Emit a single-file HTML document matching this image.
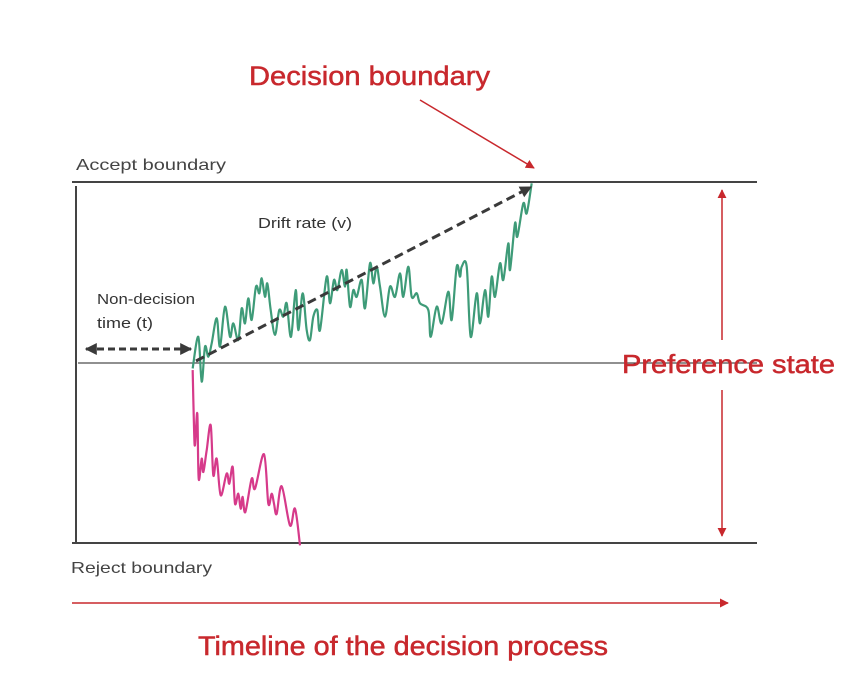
<!DOCTYPE html>
<html><head><meta charset="utf-8"><style>
html,body{margin:0;padding:0;background:#fff;}
svg{display:block;font-family:"Liberation Sans",sans-serif;}
</style></head><body>
<svg width="852" height="676" viewBox="0 0 852 676">
<defs>
<marker id="ar" viewBox="0 0 10 10" refX="9" refY="5" markerWidth="6" markerHeight="6" orient="auto-start-reverse"><path d="M0,0 L10,5 L0,10 z" fill="#c8282d"/></marker>
<marker id="ad" viewBox="0 0 10 10" refX="9" refY="5" markerWidth="4" markerHeight="4" orient="auto-start-reverse"><path d="M0,0 L10,5 L0,10 z" fill="#3a3a3a"/></marker>
</defs>
<text x="249" y="85" font-size="27" fill="#c8282d" stroke="#c8282d" stroke-width="0.5" textLength="241" lengthAdjust="spacingAndGlyphs">Decision boundary</text>
<line x1="420" y1="100" x2="534" y2="168" stroke="#c8282d" stroke-width="1.5" marker-end="url(#ar)"/>
<text x="76" y="170" font-size="16" fill="#444" textLength="150" lengthAdjust="spacingAndGlyphs">Accept boundary</text>
<line x1="72" y1="182" x2="757" y2="182" stroke="#444" stroke-width="2"/>
<line x1="72" y1="543" x2="757" y2="543" stroke="#444" stroke-width="2"/>
<line x1="78" y1="363" x2="757" y2="363" stroke="#222" stroke-width="1"/>
<line x1="76" y1="186" x2="76" y2="543" stroke="#444" stroke-width="2"/>
<text x="71" y="573" font-size="16" fill="#444" textLength="141" lengthAdjust="spacingAndGlyphs">Reject boundary</text>
<line x1="72" y1="603" x2="728" y2="603" stroke="#c8282d" stroke-width="1.5" marker-end="url(#ar)"/>
<text x="198" y="655" font-size="27" fill="#c8282d" stroke="#c8282d" stroke-width="0.5" textLength="410" lengthAdjust="spacingAndGlyphs">Timeline of the decision process</text>
<line x1="722" y1="340" x2="722" y2="190" stroke="#c8282d" stroke-width="1.5" marker-end="url(#ar)"/>
<line x1="722" y1="390" x2="722" y2="536" stroke="#c8282d" stroke-width="1.5" marker-end="url(#ar)"/>
<text x="622" y="373" font-size="26" fill="#c8282d" stroke="#c8282d" stroke-width="0.5" textLength="213" lengthAdjust="spacingAndGlyphs">Preference state</text>
<text x="258" y="228" font-size="15" fill="#333" textLength="94" lengthAdjust="spacingAndGlyphs">Drift rate (v)</text>
<text x="97" y="304" font-size="15" fill="#333" textLength="98" lengthAdjust="spacingAndGlyphs">Non-decision</text>
<text x="97" y="328" font-size="15" fill="#333" textLength="56" lengthAdjust="spacingAndGlyphs">time (t)</text>
<line x1="86" y1="349" x2="191" y2="349" stroke="#3a3a3a" stroke-width="3" stroke-dasharray="7,4" marker-start="url(#ad)" marker-end="url(#ad)"/>
<g id="series"></g>
<line x1="196" y1="361" x2="531" y2="187" stroke="#3a3a3a" stroke-width="3" stroke-dasharray="9,5" marker-end="url(#ad)"/>
</svg>
<script>
const greenTime=[38,55,65,75,85,95,110,120,135,150,160,175,185,195,205,215,228,238,245,255,262,272,285,298,310,320,333,347,355,368,380,390,400,412,420,440,450,462,472,485,495,500,510,520,530,545,555,570,580,590,600,615,630,645,660,670,685,695,710,720,745,752,770,785,805,815,830,840,845,860,872,890,900,915,925,935,945,960,970,985,990,1005,1012,1030,1040,1055];
const greenPref=[-3,14.5,-10.3,9,3.5,10.9,24.7,9,31.1,14.5,21.9,12.7,30.2,21.9,35.7,23.8,42.2,38.5,46.8,36.6,44,29.3,15.5,29.3,25.6,33,14.5,40.3,18.2,38.5,18.2,12.7,25.6,29.3,18.2,47.7,33,45.9,40.3,51.4,42.2,51.4,31.1,40.3,36.6,45.9,30.2,55.1,44,53.2,42.2,25.6,42.2,36.6,49.5,36.6,53.2,36.6,38.5,33,29.3,14.5,31.1,21.9,39.4,23.8,53.2,47.7,53.2,53.2,14.5,38.5,21.9,40.3,25.6,47.7,36.6,55.1,45.9,66.1,51.4,77.2,69.8,88.2,82.7,99.3];
const pinkTime=[38,42,45,52,56,65,70,80,92,100,110,122,140,148,158,165,175,182,188,196,215,225,252,265,275,282,290,305,330,345,360];
const pinkPref=[-3.9,-35.3,-45.4,-27.9,-63.9,-52.8,-60.2,-48.2,-34.3,-62,-52.8,-73.1,-61.1,-66.7,-57.4,-77.7,-72.2,-80.5,-74,-82.4,-63.9,-69.4,-50.4,-77.7,-72.2,-77.7,-83.3,-68.1,-89.8,-80.5,-100.8];
function xScale(t){return 180+t/3;}
function yScale(p){return 363-p*1.81;}
function pathFor(ts,ps){
  const pts=ts.map((t,i)=>[xScale(t),yScale(ps[i])]);
  let d='M'+pts[0][0]+','+pts[0][1];
  for(let i=0;i<pts.length-1;i++){
    const p0=pts[Math.max(0,i-1)],p1=pts[i],p2=pts[i+1],p3=pts[Math.min(pts.length-1,i+2)];
    const c1x=p1[0]+(p2[0]-p0[0])/6,c1y=p1[1]+(p2[1]-p0[1])/6;
    const c2x=p2[0]-(p3[0]-p1[0])/6,c2y=p2[1]-(p3[1]-p1[1])/6;
    d+=' C'+c1x.toFixed(1)+','+c1y.toFixed(1)+' '+c2x.toFixed(1)+','+c2y.toFixed(1)+' '+p2[0].toFixed(1)+','+p2[1].toFixed(1);
  }
  return d;
}
const g=document.getElementById('series');
const ns='http://www.w3.org/2000/svg';
const pk=document.createElementNS(ns,'path');
pk.setAttribute('d',pathFor(pinkTime,pinkPref));
pk.setAttribute('fill','none');pk.setAttribute('stroke','#d63a8a');pk.setAttribute('stroke-width','2.2');


g.appendChild(pk);
const gr=document.createElementNS(ns,'path');
gr.setAttribute('d',pathFor(greenTime,greenPref));
gr.setAttribute('fill','none');gr.setAttribute('stroke','#3e9b78');gr.setAttribute('stroke-width','2.2');


g.appendChild(gr);
</script>
</body></html>
